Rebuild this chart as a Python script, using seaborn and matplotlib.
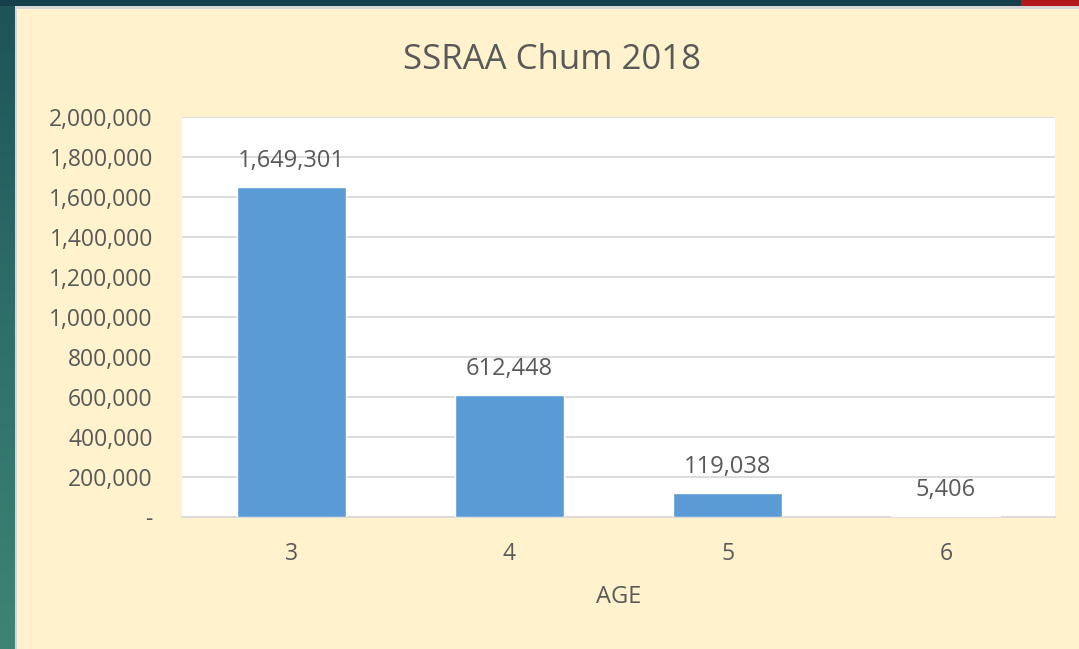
import matplotlib
matplotlib.use("Agg")
import matplotlib.pyplot as plt
import seaborn as sns
import numpy as np
import pandas as pd
from matplotlib.patches import Rectangle
from matplotlib.ticker import FuncFormatter, MultipleLocator
from matplotlib.colors import LinearSegmentedColormap

ages = ["3", "4", "5", "6"]
counts = [1649301, 612448, 119038, 5406]
title = "SSRAA Chum 2018"
xlabel = "AGE"

sns.set_theme(style="white")
plt.rcParams['font.family'] = ['Open Sans', 'DejaVu Sans']

W, H = 1079, 649
fig = plt.figure(figsize=(W / 100, H / 100), dpi=100)
fig.patch.set_facecolor("#FFF2CC")

# decorative frame: teal left strip, dark top strip, red corner
bg = fig.add_axes([0, 0, 1, 1], zorder=-10)
bg.set_axis_off()
bg.set_xlim(0, W)
bg.set_ylim(H, 0)
grad = np.linspace(0, 1, 100).reshape(-1, 1)
cmap = LinearSegmentedColormap.from_list("teal", ["#1E5358", "#2F6F6A", "#3E8474"])
bg.imshow(grad, cmap=cmap, aspect="auto", extent=[0, 15, H, 0])
bg.add_patch(Rectangle((0, 0), 1021, 6, color="#163F4C", lw=0))
bg.add_patch(Rectangle((1021, 0), W - 1021, 6, color="#B3191B", lw=0))
bg.add_patch(Rectangle((15, 6), W - 15, 2.5, color="#D8D8D8", lw=0))
bg.add_patch(Rectangle((15, 6), 2, H, color="#D8D8D8", lw=0))
bg.add_patch(Rectangle((17, 8.5), W - 17, H, color="#FFF2CC", lw=0))

ax = fig.add_axes([182 / W, 1 - 517 / H, (1055 - 182) / W, (517 - 117) / H])
ax.set_facecolor("white")

df = pd.DataFrame({"age": ages, "count": counts})
sns.barplot(data=df, x="age", y="count", color="#5B9BD5", saturation=1,
            width=0.5, ax=ax, zorder=3)

ax.set_ylim(0, 2000000)
ax.set_xlim(-0.5, 3.5)
ax.yaxis.set_major_locator(MultipleLocator(200000))
ax.yaxis.set_major_formatter(FuncFormatter(lambda v, p: "-" if v == 0 else f"{int(v):,}"))
ax.grid(axis="y", color="#D9D9D9", lw=1.3, zorder=0)
ax.set_axisbelow(True)
for s in ["top", "right", "left"]:
    ax.spines[s].set_visible(False)
ax.spines["bottom"].set_color("#D9D9D9")
ax.spines["bottom"].set_linewidth(1.3)

txtc = "#595959"
ax.tick_params(axis="both", colors=txtc, labelsize=16.5, length=0)
ax.tick_params(axis="y", pad=21)
ax.tick_params(axis="x", pad=18)
ax.set_xlabel(xlabel, color=txtc, fontsize=17, labelpad=14)
ax.set_ylabel("")

for i, v in enumerate(counts):
    ax.annotate(f"{v:,}", (i, v), xytext=(0, 10), textcoords="offset points",
                ha="center", va="bottom", color=txtc, fontsize=17)

fig.text(552 / W, 1 - 60 / H, title, ha="center", va="center",
         color=txtc, fontsize=25)

fig.savefig("out.png", dpi=100, facecolor=fig.get_facecolor())
